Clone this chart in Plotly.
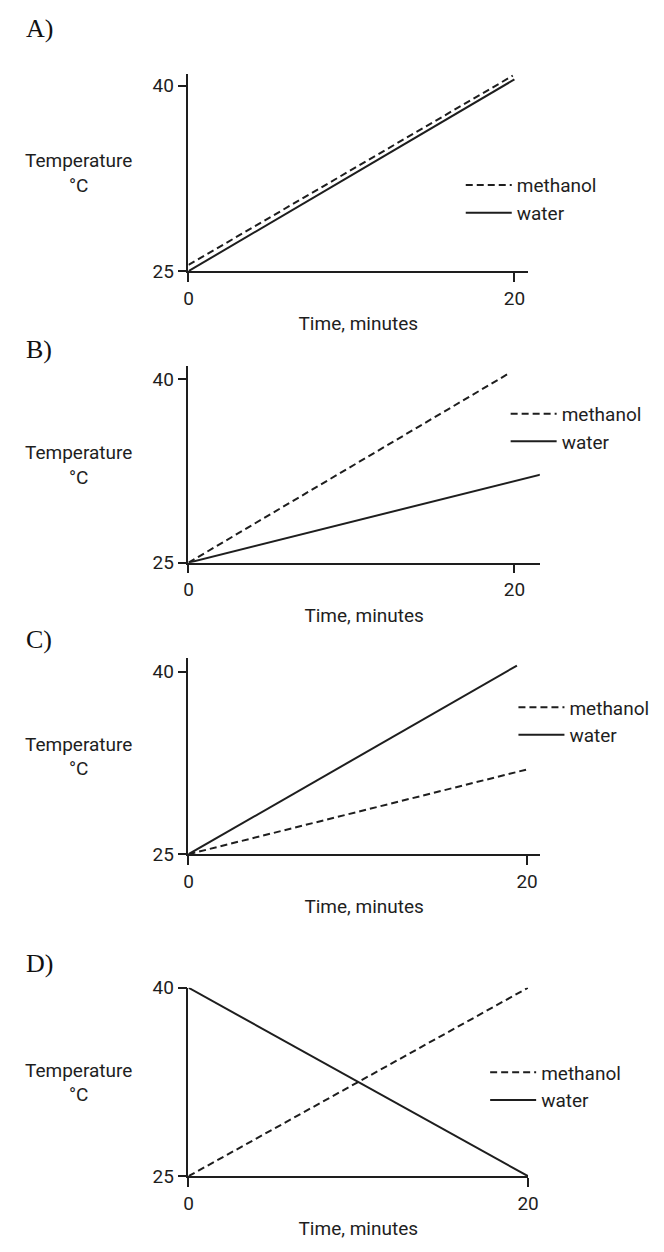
import plotly.graph_objects as go

# ---------------- data ----------------
panel_labels = ["A)", "B)", "C)", "D)"]
x_ticks = [0, 20]
y_ticks = [25, 40]

methanol_x = [[0, 19.9], [0, 19.7], [0, 20.1], [0, 20]]
methanol_y = [[25.5, 40.8], [25, 40.5], [25, 32.0], [25, 40]]
water_x = [[0, 20], [0, 21.6], [0, 19.4], [0, 20]]
water_y = [[25, 40.5], [25, 32.2], [25, 40.5], [40, 25]]

# ---------------- layout geometry (pixels) ----------------
W, H = 664, 1252
x0_px = [188, 188, 188, 188]
x20_px = [522, 522, 535, 536]
xend_px = [536, 548, 548, 536]
ytop_px = [64, 362, 659, 995]
y40_px = [76, 375, 673, 995]
y25_px = [265, 562, 859, 1187]
legend_text_px = [(518, 177), (564, 410), (572, 709), (543, 1081)]
label_y_px = [18, 345, 640, 970]

SANS = "Liberation Sans Narrow, Arial Narrow, Roboto, sans-serif"
SERIF = "Liberation Serif, DejaVu Serif, serif"
INK = "#1e1e1e"

fig = go.Figure()
layout = dict(
    width=W, height=H,
    margin=dict(l=0, r=0, t=0, b=0),
    paper_bgcolor="white", plot_bgcolor="white",
    showlegend=True,
    annotations=[],
)

for i in range(4):
    n = "" if i == 0 else str(i + 1)
    xa, ya = "x" + n, "y" + n
    leg = "legend" + n
    fig.add_trace(go.Scatter(
        x=methanol_x[i], y=methanol_y[i], mode="lines", name="methanol",
        line=dict(color=INK, width=2, dash="7px,4px"),
        xaxis=xa, yaxis=ya, legend=leg, legendgroup="m" + n,
        hoverinfo="skip"))
    fig.add_trace(go.Scatter(
        x=water_x[i], y=water_y[i], mode="lines", name="water",
        line=dict(color=INK, width=2),
        xaxis=xa, yaxis=ya, legend=leg, legendgroup="w" + n,
        hoverinfo="skip"))

    xmax = (xend_px[i] - x0_px[i]) / (x20_px[i] - x0_px[i]) * 20
    ymax = 25 + (y25_px[i] - ytop_px[i]) / (y25_px[i] - y40_px[i]) * 15
    common = dict(showgrid=False, zeroline=False, showline=True,
                  linecolor=INK, linewidth=1.5, ticks="outside",
                  ticklen=9, tickwidth=1.5, tickcolor=INK,
                  tickfont=dict(family=SANS, size=19, color=INK),
                  fixedrange=True)
    layout["xaxis" + n] = dict(
        common, domain=[x0_px[i] / W, xend_px[i] / W],
        range=[0, xmax], tickvals=x_ticks, anchor=ya,
        title=dict(text="Time, minutes", standoff=8,
                   font=dict(family=SANS, size=19, color=INK)))
    layout["yaxis" + n] = dict(
        common, domain=[1 - y25_px[i] / H, 1 - ytop_px[i] / H],
        range=[25, ymax], tickvals=y_ticks, anchor=xa)

    tx, ty = legend_text_px[i]
    layout[leg] = dict(
        x=(tx - 51) / W, y=1 - (ty - 19) / H, xanchor="left", yanchor="top",
        bgcolor="rgba(0,0,0,0)", tracegroupgap=6, itemwidth=46,
        font=dict(family=SANS, size=19, color=INK), traceorder="normal")

    ymid = (y25_px[i] + ytop_px[i]) / 2
    layout["annotations"].append(dict(
        text="Temperature", x=75 / W, y=1 - (ymid - 12) / H,
        xref="paper", yref="paper", showarrow=False,
        xanchor="center", yanchor="middle",
        font=dict(family=SANS, size=19, color=INK)))
    layout["annotations"].append(dict(
        text="°C", x=75 / W, y=1 - (ymid + 13) / H,
        xref="paper", yref="paper", showarrow=False,
        xanchor="center", yanchor="middle",
        font=dict(family=SANS, size=19, color=INK)))
    layout["annotations"].append(dict(
        text=panel_labels[i], x=19 / W, y=1 - label_y_px[i] / H,
        xref="paper", yref="paper", showarrow=False,
        xanchor="left", yanchor="middle",
        font=dict(family=SERIF, size=26, color="#111")))

fig.update_layout(**layout)
fig.write_html("out.html")
